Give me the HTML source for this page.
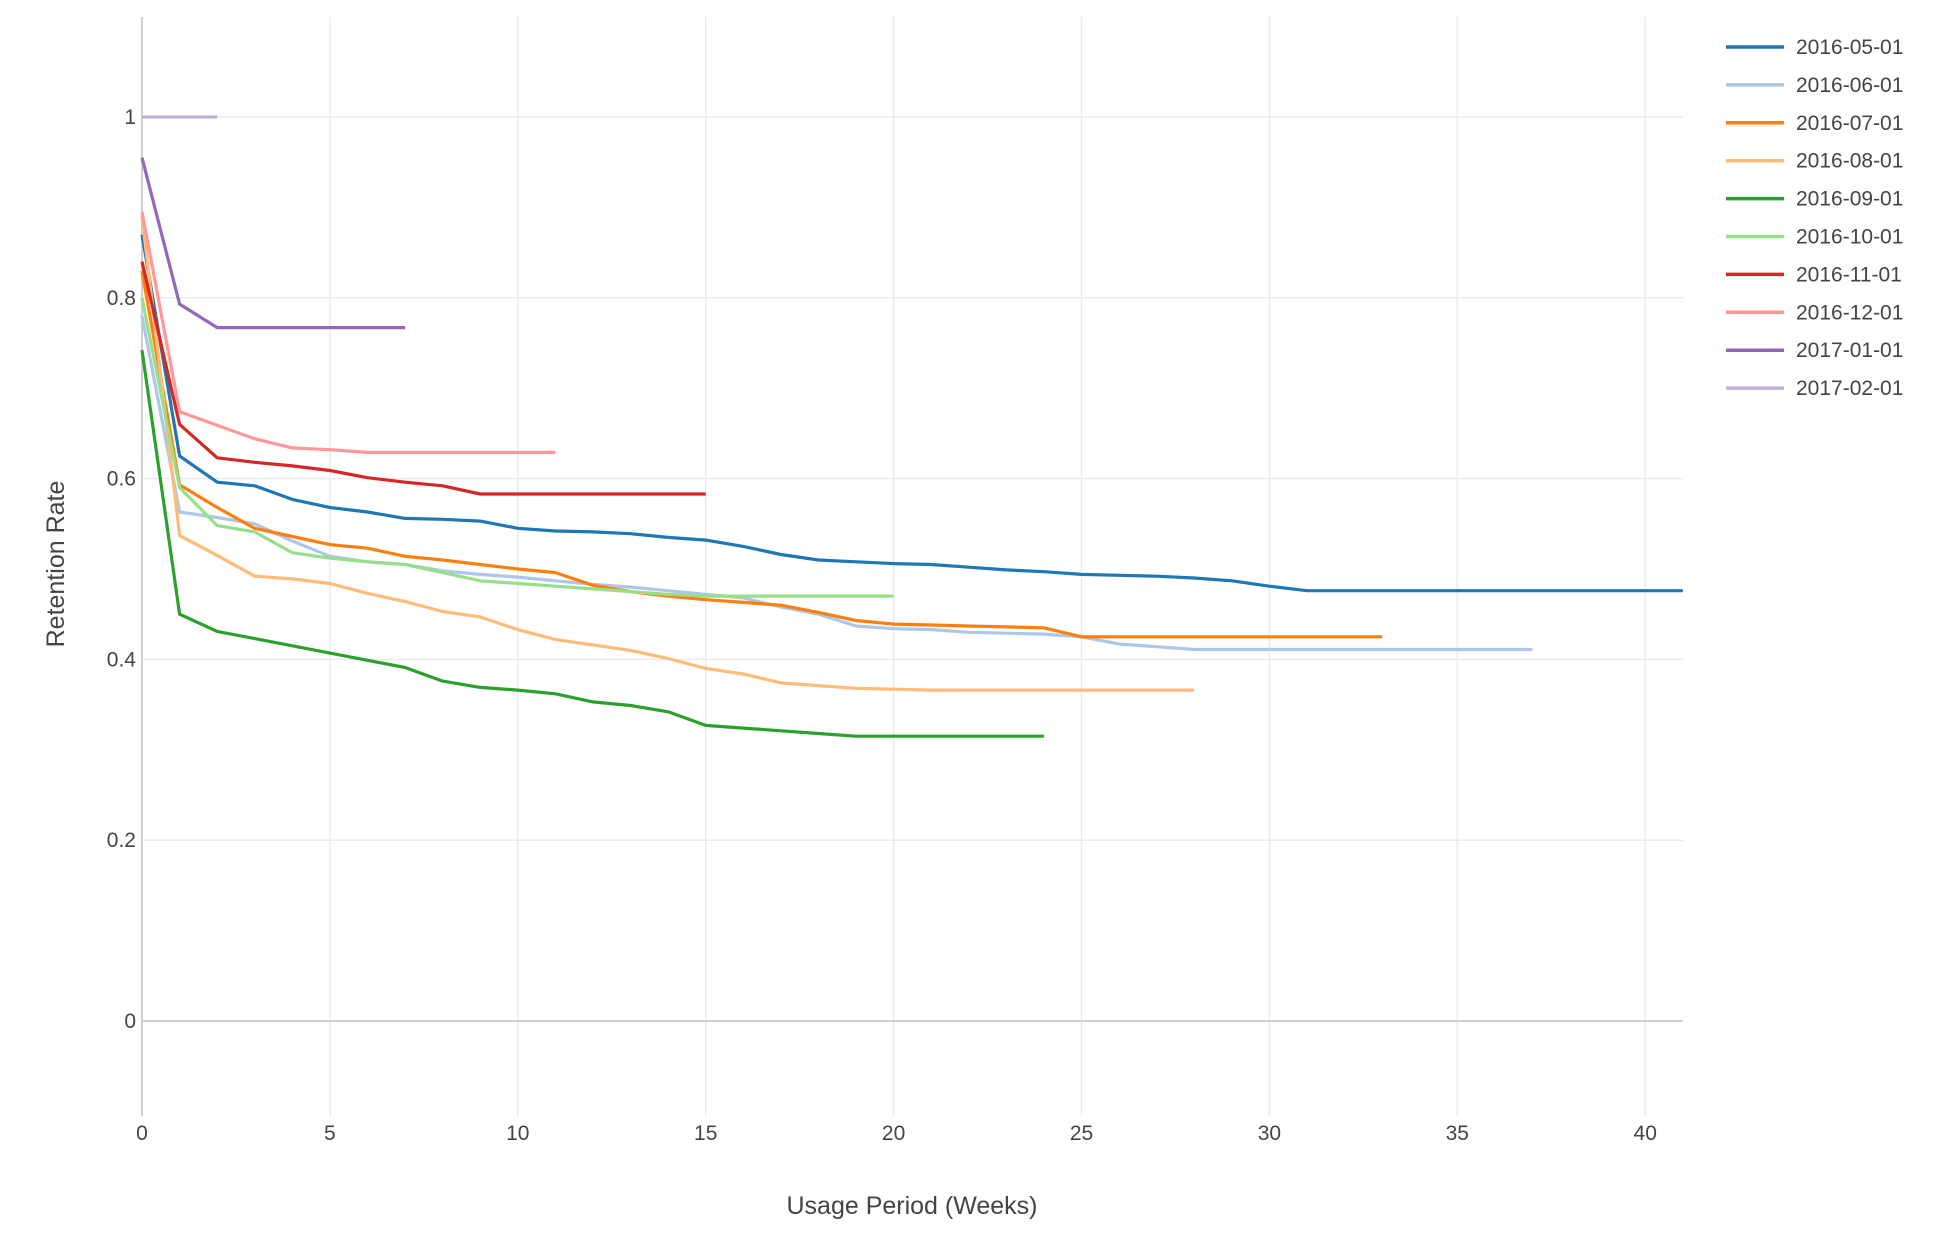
<!DOCTYPE html>
<html><head><meta charset="utf-8"><style>
body{margin:0;background:#fff;}
svg{display:block;font-family:"Liberation Sans",sans-serif;}
</style></head><body>
<svg id="chart" width="1956" height="1234" xmlns="http://www.w3.org/2000/svg">
<g id="grid"></g>
<g id="axes"></g>
<g id="series"></g>
<g id="legend"></g>
<text x="912" y="1214" font-size="25" fill="#444" text-anchor="middle">Usage Period (Weeks)</text>
<text x="0" y="0" font-size="25" fill="#444" text-anchor="middle" transform="translate(64,564) rotate(-90)">Retention Rate</text>
</svg>
<script>
const seriesNames=["2016-05-01","2016-06-01","2016-07-01","2016-08-01","2016-09-01","2016-10-01","2016-11-01","2016-12-01","2017-01-01","2017-02-01"];
const seriesColors=["#1f77b4","#aec7e8","#ff7f0e","#ffbb78","#2ca02c","#98df8a","#d62728","#ff9896","#9467bd","#c5b0d5"];
const s0501=[0.87,0.625,0.596,0.592,0.577,0.568,0.563,0.556,0.555,0.553,0.545,0.542,0.541,0.539,0.535,0.532,0.525,0.516,0.510,0.508,0.506,0.505,0.502,0.499,0.497,0.494,0.493,0.492,0.490,0.487,0.481,0.476,0.476,0.476,0.476,0.476,0.476,0.476,0.476,0.476,0.476,0.476];
const s0601=[0.78,0.563,0.557,0.55,0.531,0.514,0.508,0.505,0.498,0.494,0.491,0.487,0.483,0.48,0.476,0.472,0.468,0.458,0.45,0.437,0.434,0.433,0.43,0.429,0.428,0.425,0.417,0.414,0.411,0.411,0.411,0.411,0.411,0.411,0.411,0.411,0.411,0.411];
const s0701=[0.83,0.593,0.568,0.545,0.536,0.527,0.523,0.514,0.51,0.505,0.5,0.496,0.482,0.475,0.47,0.466,0.463,0.46,0.452,0.443,0.439,0.438,0.437,0.436,0.435,0.425,0.425,0.425,0.425,0.425,0.425,0.425,0.425,0.425];
const s0801=[0.89,0.537,0.515,0.492,0.489,0.484,0.473,0.464,0.453,0.447,0.433,0.422,0.416,0.41,0.401,0.39,0.384,0.374,0.371,0.368,0.367,0.366,0.366,0.366,0.366,0.366,0.366,0.366,0.366];
const s0901=[0.742,0.45,0.431,0.423,0.415,0.407,0.399,0.391,0.376,0.369,0.366,0.362,0.353,0.349,0.342,0.327,0.324,0.321,0.318,0.315,0.315,0.315,0.315,0.315,0.315];
const s1001=[0.8,0.59,0.548,0.541,0.518,0.512,0.508,0.505,0.496,0.487,0.484,0.481,0.478,0.475,0.472,0.47,0.47,0.47,0.47,0.47,0.47];
const s1101=[0.84,0.66,0.623,0.618,0.614,0.609,0.601,0.596,0.592,0.583,0.583,0.583,0.583,0.583,0.583,0.583];
const s1201=[0.895,0.674,0.659,0.644,0.634,0.632,0.629,0.629,0.629,0.629,0.629,0.629];
const s0101=[0.955,0.793,0.767,0.767,0.767,0.767,0.767,0.767];
const s0201=[1,1,1];
const seriesValues=[s0501,s0601,s0701,s0801,s0901,s1001,s1101,s1201,s0101,s0201];
const xTicks=[0,5,10,15,20,25,30,35,40];
const yTicks=[0,0.2,0.4,0.6,0.8,1];
const yTickLabels=["0","0.2","0.4","0.6","0.8","1"];

const NS="http://www.w3.org/2000/svg";
const L=142,R=1683,T=17,B=1116;
const X=v=>142+v*37.58;
const Y=v=>1021-v*904;
function mk(tag,attrs,parent){const e=document.createElementNS(NS,tag);for(const k in attrs)e.setAttribute(k,attrs[k]);parent.appendChild(e);return e;}
const grid=document.getElementById('grid'),axes=document.getElementById('axes'),ser=document.getElementById('series'),leg=document.getElementById('legend');
xTicks.forEach(t=>{
  if(t>0){const l=mk('line',{x1:X(t),x2:X(t),y1:T,y2:B,stroke:'#ebebeb','stroke-width':1.5},grid);
  
  }
  const tx=mk('text',{x:X(t),y:1140,'font-size':21,fill:'#444','text-anchor':'middle'},axes);
  tx.textContent=t;
  
  
});
yTicks.forEach((t,i)=>{
  const l=mk('line',{x1:L,x2:R,y1:Y(t),y2:Y(t),stroke:t===0?'#cfcfcf':'#ebebeb','stroke-width':t===0?2:1.5},grid);
  
  
  const tx=mk('text',{x:136,y:Y(t)+7,'font-size':21,fill:'#444','text-anchor':'end'},axes);
  tx.textContent=yTickLabels[i];
  
  
});
const ax=mk('line',{x1:L,x2:L,y1:T,y2:B,stroke:'#cfcfcf','stroke-width':2},axes);


seriesValues.forEach((vals,i)=>{
  const pts=vals.map((v,j)=>X(j).toFixed(1)+','+Y(v).toFixed(1)).join(' ');
  const p=mk('polyline',{points:pts,fill:'none',stroke:seriesColors[i],'stroke-width':3.2,'stroke-linejoin':'round'},ser);
  
  
  const y=47+i*37.9;
  const g=mk('g',{},leg);
  
  
  mk('line',{x1:1726,x2:1784,y1:y,y2:y,stroke:seriesColors[i],'stroke-width':3.5},g);
  const tx=mk('text',{x:1796,y:y+7,'font-size':21,fill:'#444'},g);
  tx.textContent=seriesNames[i];
});
</script>
</body></html>
